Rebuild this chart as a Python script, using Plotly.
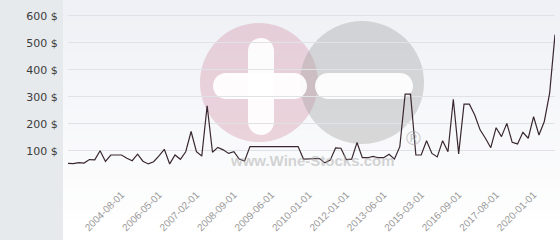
import plotly.graph_objects as go

# ---- data ----
values = [54, 53, 57, 55, 68, 67, 101, 61, 85, 85, 85, 73, 64, 88, 62, 52, 60, 82, 106, 52,
          85, 69, 97, 172, 97, 81, 267, 95, 113, 104, 91, 97, 70, 63,
          116, 116, 116, 116, 116, 116, 116, 116, 116, 116,
          70, 71, 70, 72, 56, 66, 111, 110, 68, 70, 131, 75, 75, 80, 75, 75, 88, 70, 116,
          310, 310, 85, 85, 138, 91, 78, 138, 97, 291, 89, 273, 273, 233, 178, 147, 112,
          186, 153, 202, 132, 126, 169, 147, 227, 159, 209, 314, 530]
points = list(range(len(values)))
tick_positions = [10, 17, 24, 31, 38, 45, 52, 59, 66, 73, 80, 87]
tick_labels = ["2004-08-01", "2006-05-01", "2007-02-01", "2008-09-01", "2009-06-01",
               "2010-01-01", "2012-01-01", "2013-06-01", "2015-03-01", "2016-09-01",
               "2017-08-01", "2020-01-01"]
y_ticks = [0, 100, 200, 300, 400, 500, 600]
y_labels = ["", "100 $", "200 $", "300 $", "400 $", "500 $", "600 $"]

W, H = 560, 240
ML, MR, MT, MB = 68, 5, 13, 62
PW, PH = W - ML - MR, H - MT - MB


def px(x):
    return (x - ML) / PW


def py(y):
    return (H - MB - y) / PH


shapes = []
# left panel
shapes.append(dict(type="rect", xref="paper", yref="paper", x0=px(0), x1=px(63), y0=py(240), y1=py(0),
                   fillcolor="#e6eaed", line=dict(width=0), layer="below"))
# gradient background
n = 24
for k in range(n):
    t = k / (n - 1)
    f = min(1.0, t * 1.05)
    r = int(239 + (255 - 239) * f)
    g = int(241 + (255 - 241) * f)
    b = int(246 + (255 - 246) * f)
    shapes.append(dict(type="rect", xref="paper", yref="paper", x0=px(63), x1=px(560),
                       y0=py(k * 10 + 10), y1=py(k * 10), fillcolor=f"rgb({r},{g},{b})",
                       line=dict(width=0), layer="below"))
# watermark circles
shapes.append(dict(type="circle", xref="paper", yref="paper", x0=px(200), x1=px(318), y0=py(142), y1=py(23),
                   fillcolor="rgba(210,140,160,0.35)", line=dict(width=0), layer="below"))
shapes.append(dict(type="circle", xref="paper", yref="paper", x0=px(300), x1=px(424), y0=py(144), y1=py(21),
                   fillcolor="rgba(160,160,160,0.38)", line=dict(width=0), layer="below"))


def stadium(x0, y0, x1, y1):
    k = 0.5523
    if (x1 - x0) >= (y1 - y0):
        r = (y1 - y0) / 2
        yc = (y0 + y1) / 2
        pts = [("M", [(x0 + r, y0)]), ("L", [(x1 - r, y0)]),
               ("C", [(x1 - r + k * r, y0), (x1, yc - k * r), (x1, yc)]),
               ("C", [(x1, yc + k * r), (x1 - r + k * r, y1), (x1 - r, y1)]),
               ("L", [(x0 + r, y1)]),
               ("C", [(x0 + r - k * r, y1), (x0, yc + k * r), (x0, yc)]),
               ("C", [(x0, yc - k * r), (x0 + r - k * r, y0), (x0 + r, y0)])]
    else:
        r = (x1 - x0) / 2
        xc = (x0 + x1) / 2
        pts = [("M", [(x0, y0 + r)]),
               ("C", [(x0, y0 + r - k * r), (xc - k * r, y0), (xc, y0)]),
               ("C", [(xc + k * r, y0), (x1, y0 + r - k * r), (x1, y0 + r)]),
               ("L", [(x1, y1 - r)]),
               ("C", [(x1, y1 - r + k * r), (xc + k * r, y1), (xc, y1)]),
               ("C", [(xc - k * r, y1), (x0, y1 - r + k * r), (x0, y1 - r)])]
    s = ""
    for cmd, ps in pts:
        s += cmd + " ".join(f"{px(a):.5f},{py(b):.5f}" for a, b in ps) + " "
    return s + "Z"


for (a, b, c, d) in [(248, 38, 274, 135), (213, 73, 307, 99), (315, 73, 413, 99)]:
    shapes.append(dict(type="path", xref="paper", yref="paper", path=stadium(a, b, c, d),
                       fillcolor="rgba(255,255,255,0.92)", line=dict(width=0), layer="below"))

annotations = [
    dict(text="<b>www.Wine-Stocks.com</b>", xref="paper", yref="paper", x=px(312.5), y=py(160.5),
         showarrow=False, font=dict(family="Liberation Sans", size=15, color="rgba(170,170,170,0.5)"),
         xanchor="center", yanchor="middle"),
    dict(text="®", xref="paper", yref="paper", x=px(413), y=py(138),
         showarrow=False, font=dict(family="Liberation Sans", size=20, color="rgba(165,165,165,0.6)"),
         xanchor="center", yanchor="middle"),
]

fig = go.Figure()
fig.add_trace(go.Scatter(x=points, y=values, mode="lines",
                         line=dict(color="#3a2830", width=1.2), hoverinfo="skip"))

fig.update_layout(
    width=W, height=H,
    margin=dict(l=ML, r=MR, t=MT, b=MB, pad=0),
    paper_bgcolor="white",
    plot_bgcolor="rgba(0,0,0,0)",
    showlegend=False,
    shapes=shapes,
    annotations=annotations,
    xaxis=dict(range=[0, len(values) - 1], tickmode="array", tickvals=tick_positions, ticktext=tick_labels,
               tickangle=-45, showgrid=False, zeroline=False, showline=False,
               ticks="outside", ticklen=6, tickcolor="rgba(0,0,0,0)",
               tickfont=dict(family="Liberation Sans", size=10, color="#999999")),
    yaxis=dict(range=[0, 610], tickmode="array", tickvals=y_ticks, ticktext=y_labels,
               showgrid=True, gridcolor="#e1e2e5", gridwidth=1, zeroline=False, showline=False,
               ticks="outside", ticklen=7, tickcolor="rgba(0,0,0,0)",
               tickfont=dict(family="DejaVu Sans", size=11, color="#3c3c3c")),
)

fig.write_html("out.html")
